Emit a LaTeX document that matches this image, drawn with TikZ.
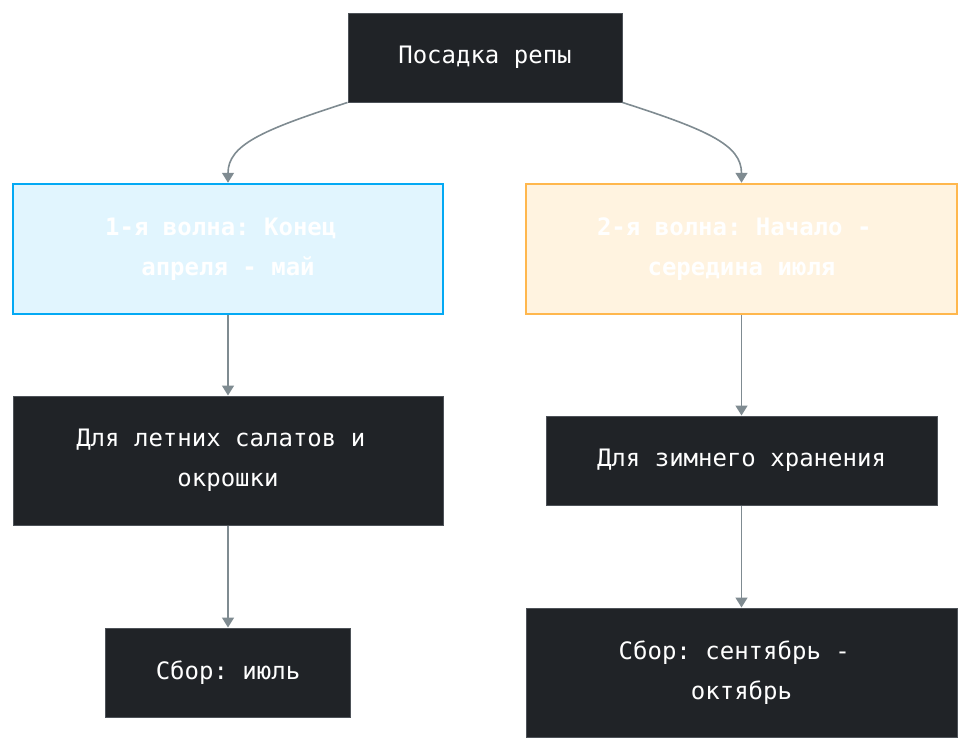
\documentclass[tikz,border=0pt]{standalone}
\usepackage{fontspec}
\setmonofont{DejaVu Sans Mono}
\usepackage{tikz}
\usetikzlibrary{arrows.meta,positioning,calc}
\definecolor{darkbox}{HTML}{202327}
\definecolor{darkline}{HTML}{4D5258}
\definecolor{linkgray}{HTML}{7F8B91}
\definecolor{skyfill}{HTML}{E1F5FE}
\definecolor{skyline}{HTML}{03A9F4}
\definecolor{sandfill}{HTML}{FFF3E0}
\definecolor{sandline}{HTML}{FFB74D}
\newcommand{\tsp}{\hphantom{x}}

\begin{document}
\begin{tikzpicture}[x=1pt,y=-1pt,every node/.style={draw,align=center,inner sep=0pt,text=white,font=\ttfamily\fontsize{24}{40}\selectfont},>={Triangle[width=12pt,length=10pt]}]
\useasboundingbox (0,0) rectangle (970,750);
\tikzset{darkstep/.style={fill=darkbox,draw=darkline,line width=1pt,minimum height=89pt},
  wavestep/.style={line width=2.5pt,minimum height=130pt,font=\ttfamily\bfseries\fontsize{24}{40}\selectfont},
  link/.style={->,draw=linkgray,line width=1.6pt}}
\node[darkstep,minimum width=274pt] (sowing) at (485,57.5) {Посадка репы};
\node[wavestep,fill=skyfill,draw=skyline,minimum width=430pt] (wave1) at (228,249) {1-я волна: Конец\tsp\\апреля - май};
\node[wavestep,fill=sandfill,draw=sandline,minimum width=431pt] (wave2) at (741.5,249) {2-я волна: Начало -\tsp\\середина июля};
\node[darkstep,minimum width=430pt,minimum height=129pt] (summer) at (228,460.5) {Для летних салатов и\tsp\\окрошки};
\node[darkstep,minimum width=391pt] (winter) at (741.5,460.5) {Для зимнего хранения};
\node[darkstep,minimum width=245pt] (july) at (228,672.5) {Сбор: июль};
\node[darkstep,minimum width=431pt,minimum height=129pt] (autumn) at (741.5,672.5) {Сбор: сентябрь -\tsp\\октябрь};
\draw[link] (sowing.south west) .. controls (262,130) and (228,145) .. (wave1.north);
\draw[link] (sowing.south east) .. controls (708,130) and (741.5,145) .. (wave2.north);
\draw[link] (wave1)--(summer); \draw[link] (summer)--(july);
\draw[link] (wave2)--(winter); \draw[link] (winter)--(autumn);
\end{tikzpicture}
\end{document}
